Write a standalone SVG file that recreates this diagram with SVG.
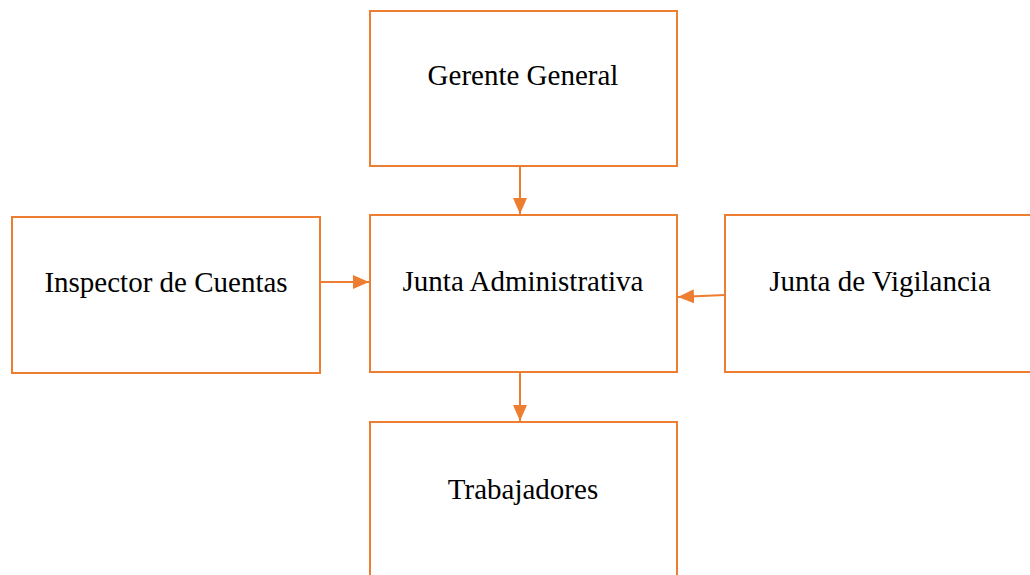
<svg xmlns="http://www.w3.org/2000/svg" width="1030" height="575" viewBox="0 0 1030 575">
  <style>
    .box { fill: #ffffff; stroke: #ED7D31; stroke-width: 2; }
    .label { font-family: 'Liberation Serif', 'DejaVu Serif', serif; font-size: 29px; fill: #000000; text-anchor: middle; }
    .link { fill: none; stroke: #ED7D31; stroke-width: 2; }
  </style>
  <defs>
    <marker id="head" viewBox="0 0 16 14" refX="16" refY="7" markerWidth="16" markerHeight="14" orient="auto" markerUnits="userSpaceOnUse">
      <path d="M0,0 L16,7 L0,14 Z" fill="#ED7D31"/>
    </marker>
  </defs>
  <rect width="1030" height="575" fill="#ffffff"/>

  <g id="gerente-general">
    <rect class="box" x="370" y="11" width="307" height="155"/>
    <text class="label" x="523" y="85">Gerente General</text>
  </g>

  <g id="junta-administrativa">
    <rect class="box" x="370" y="215" width="307" height="157"/>
    <text class="label" x="523" y="291">Junta Administrativa</text>
  </g>

  <g id="inspector-de-cuentas">
    <rect class="box" x="12" y="217" width="308" height="156"/>
    <text class="label" x="166" y="292">Inspector de Cuentas</text>
  </g>

  <g id="junta-de-vigilancia">
    <rect class="box" x="725" y="215" width="312" height="157"/>
    <text class="label" x="880" y="291">Junta de Vigilancia</text>
  </g>

  <g id="trabajadores">
    <rect class="box" x="370" y="422" width="307" height="170"/>
    <text class="label" x="523" y="499">Trabajadores</text>
  </g>

  <g id="connectors">
    <line class="link" x1="520" y1="166" x2="520" y2="214" marker-end="url(#head)"/>
    <line class="link" x1="320" y1="282" x2="369" y2="282" marker-end="url(#head)"/>
    <line class="link" x1="725" y1="295" x2="678" y2="297" marker-end="url(#head)"/>
    <line class="link" x1="520" y1="372" x2="520" y2="421" marker-end="url(#head)"/>
  </g>
</svg>
